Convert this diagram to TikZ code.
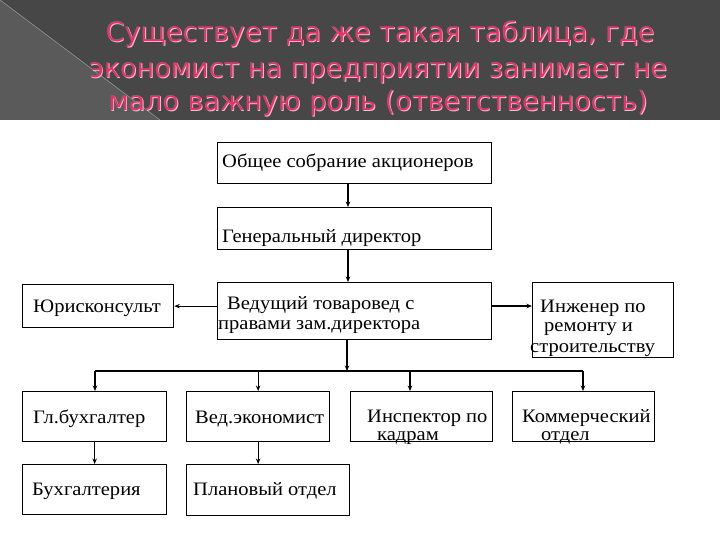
\documentclass[tikz,border=0pt]{standalone}
\usepackage{fontspec}
\setmainfont[FakeStretch=1.08]{Liberation Serif}
\newfontfamily\titlefont{DejaVu Sans}
\usetikzlibrary{arrows.meta,calc}
\definecolor{hdrdark}{HTML}{474747}
\definecolor{hdrlight}{HTML}{5A5A5A}
\definecolor{titlepink}{HTML}{E4336C}
\definecolor{titleedge}{HTML}{D0D0D0}
\begin{document}
\begin{tikzpicture}[x=1pt,y=-1pt,
  box/.style={draw=black, line width=1.3pt, inner sep=0pt, anchor=north west},
  lbl/.style={font=\fontsize{19}{21}\selectfont, inner sep=0pt, anchor=base west},
  ttl/.style={font=\titlefont\fontsize{27}{30}\selectfont, inner sep=0pt, anchor=base},
  conn/.style={line width=1.1pt},
  arr/.style={line width=1.1pt, -{Stealth[length=5.5pt,width=4.5pt]}}]
\useasboundingbox (0,0) rectangle (720,540);
\fill[white] (0,0) rectangle (720,540);
% header band
\fill[hdrdark] (0,0) rectangle (720,120);
\fill[hdrlight] (0,0) -- (160,120) -- (0,120) -- cycle;
\draw[hdrlight!60!white, line width=0.5pt] (0,0) -- (160,120);
% title
\foreach \dx/\col in {0.9/titleedge, 0/titlepink}{
  \node[ttl, text=\col] (t1) at (380+\dx,42+\dx) {Существует да же такая таблица, где};
  \node[ttl, text=\col] (t2) at (378+\dx,78+\dx) {экономист на предприятии занимает не};
  \node[ttl, text=\col] (t3) at (378+\dx,111+\dx) {мало важную роль (ответственность)};
}
% boxes
\node[box, minimum width=274pt, minimum height=41pt] (b1) at (217,142) {};
\node[box, minimum width=274pt, minimum height=42pt] (b2) at (217,207) {};
\node[box, minimum width=274pt, minimum height=57pt] (b3) at (217,282) {};
\node[box, minimum width=151pt, minimum height=43pt] (jur) at (22,284) {};
\node[box, minimum width=141pt, minimum height=75pt] (eng) at (532,282) {};
\node[box, minimum width=144pt, minimum height=50pt] (gb) at (22,391) {};
\node[box, minimum width=143pt, minimum height=50pt] (ve) at (186,391) {};
\node[box, minimum width=142pt, minimum height=50pt] (ik) at (350,391) {};
\node[box, minimum width=142pt, minimum height=50pt] (km) at (512,391) {};
\node[box, minimum width=144pt, minimum height=50pt] (bu) at (22,464) {};
\node[box, minimum width=163pt, minimum height=51pt] (pl) at (186,464) {};
% labels
\node[lbl] (l1) at (222,168) {Общее собрание акционеров};
\node[lbl] (l2) at (222,242) {Генеральный директор};
\node[lbl] (l3a) at (227,309) {Ведущий товаровед с};
\node[lbl] (l3b) at (218,329) {правами зам.директора};
\node[lbl] (lj) at (33,312) {Юрисконсульт};
\node[lbl] (le1) at (540,312) {Инженер по};
\node[lbl] (le2) at (544,331) {ремонту и};
\node[lbl] (le3) at (530,352) {строительству};
\node[lbl] (lgb) at (33,423) {Гл.бухгалтер};
\node[lbl] (lve) at (195,423) {Вед.экономист};
\node[lbl] (lik1) at (367,422) {Инспектор по};
\node[lbl] (lik2) at (377,440) {кадрам};
\node[lbl] (lkm1) at (522,422) {Коммерческий};
\node[lbl] (lkm2) at (541,440) {отдел};
\node[lbl] (lbu) at (32,495) {Бухгалтерия};
\node[lbl] (lpl) at (193,495) {Плановый отдел};
% connectors
\draw[arr] ($(b1.south west)+(131,0)$) -- ($(b2.north west)+(131,0)$);
\draw[arr] ($(b2.south west)+(131,0)$) -- ($(b3.north west)+(131,0)$);
\draw[arr] (b3.west |- jur.east) -- (jur.east);
\draw[arr] ($(b3.north east)+(0,24)$) -- ($(eng.north west)+(0,24)$);
\coordinate (busL) at (95,371);
\coordinate (busR) at (583,371);
\coordinate (busM) at (347,371);
\coordinate (ikTop) at ($(ik.north west)+(60,0)$);
\draw[conn] (busL) -- (busR);
\draw[arr] (b3.south west -| busM) -- (busM);
\draw[arr] (busL) -- (busL |- gb.north);
\draw[arr] (ve.north |- busL) -- (ve.north);
\draw[arr] (ikTop |- busL) -- (ikTop);
\draw[arr] (busR) -- (busR |- km.north);
\draw[arr] (gb.south) -- (gb.south |- bu.north);
\draw[arr] (ve.south) -- (ve.south |- pl.north);
\end{tikzpicture}
\end{document}
